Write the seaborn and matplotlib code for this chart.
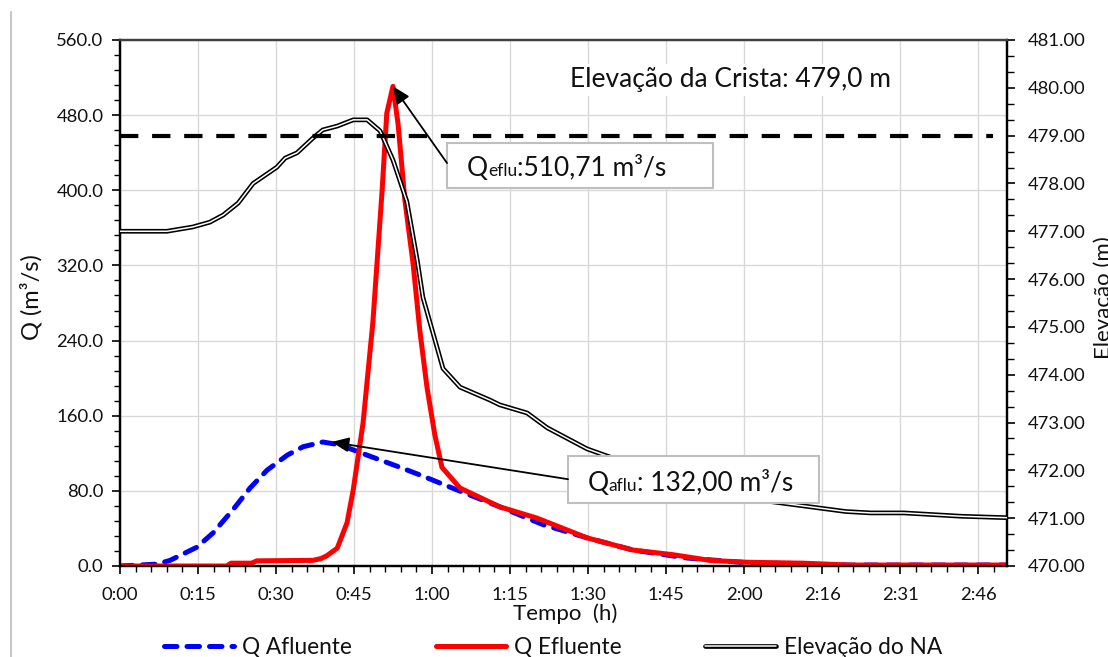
import matplotlib
matplotlib.use("Agg")
import matplotlib.pyplot as plt
import matplotlib.patheffects as pe
from matplotlib.lines import Line2D
from matplotlib.patches import Rectangle
from matplotlib.ticker import AutoMinorLocator, MultipleLocator, FixedLocator
from matplotlib.offsetbox import TextArea, HPacker, AnnotationBbox
import seaborn as sns

# ---------------- data (time in minutes) ----------------
t_afl = [0, 7.2, 9.7, 14.9, 18.0, 21.9, 25.2, 28.5, 32.4, 35.5, 39.3, 42.6, 47.9,
         54.3, 58.1, 65.3, 73.6, 82.0, 90.5, 99.4, 109.9, 120.2, 132.4, 141.5, 171.9]
q_afl = [0, 2, 6, 20, 35, 60, 83, 102, 118, 127, 132, 129, 118,
         105, 97, 81, 63, 44, 30, 17, 8.5, 4, 2, 1, 1]

t_efl = [0, 20.7, 21.5, 25.5, 26.5, 37.4, 39.0, 40.1, 42.1, 44.0, 45.2, 47.1, 49.0,
         50.8, 51.7, 52.9, 53.9, 55.2, 56.8, 58.1, 59.5, 61.0, 62.4, 65.9, 73.6,
         80.8, 90.5, 99.4, 107.2, 114.3, 121.5, 132.4, 141.5, 171.9]
q_efl = [0, 0, 3, 3, 5.5, 6, 8, 11, 19, 46, 81, 152, 259,
         400, 482, 510.71, 470, 390, 322, 251, 190, 140, 105, 83, 63,
         51, 30, 17, 12, 6, 4, 3, 1, 1]

t_elev = [0, 9.1, 14.1, 17.4, 20.0, 22.9, 25.8, 30.4, 32.0, 34.3, 37.4, 39.3, 42.1,
          45.2, 47.9, 50.4, 52.9, 55.6, 57.6, 58.7, 62.6, 65.9, 71.7, 73.6, 78.9,
          82.8, 90.5, 94.4, 100, 110, 120, 125.2, 135.7, 140.6, 145.5, 151.9, 163.1, 171.9]
e_elev = [477.00, 477.00, 477.09, 477.19, 477.34, 477.59, 478.00, 478.34, 478.53, 478.64,
          478.95, 479.12, 479.20, 479.33, 479.33, 479.10, 478.49, 477.62, 476.40, 475.62,
          474.13, 473.74, 473.47, 473.37, 473.20, 472.89, 472.45, 472.30, 472.1, 471.8,
          471.5, 471.36, 471.21, 471.14, 471.11, 471.11, 471.04, 471.01]

crista_t = [0, 169.2]
crista_e = [479.0, 479.0]

x_tick_labels = ["0:00", "0:15", "0:30", "0:45", "1:00", "1:15", "1:30",
                 "1:45", "2:00", "2:16", "2:31", "2:46"]
x_major_step = 15.12
q_ticks = [0, 80, 160, 240, 320, 400, 480, 560]
e_ticks = [470, 471, 472, 473, 474, 475, 476, 477, 478, 479, 480, 481]

peak_efl = (52.9, 510.71)
peak_afl = (41.0, 132.0)

# ---------------- style ----------------
sns.set_theme(style="white")
plt.rcParams["font.family"] = ["Lato", "DejaVu Sans"]
TXT = "#111111"
plt.rcParams["text.color"] = TXT

fig = plt.figure(figsize=(11.08, 6.57), dpi=100)
ax = fig.add_axes([120/1108, 1-566/657, 887/1108, 526/657])
ax2 = ax.twinx()

double_fx = [pe.Stroke(linewidth=3.4, foreground="black"), pe.Normal()]

# primary series
sns.lineplot(x=t_afl, y=q_afl, ax=ax, color="#0000ff", lw=3.6, sort=False,
             linestyle=(0, (2.5, 2.0)), dash_capstyle="round", zorder=3)
sns.lineplot(x=t_efl, y=q_efl, ax=ax, color="#ff0000", lw=3.6, sort=False,
             zorder=4, solid_joinstyle="round")

# secondary series (double line: white core with black outline)
sns.lineplot(x=t_elev, y=e_elev, ax=ax2, color="white", lw=1.1, sort=False, zorder=3,
             path_effects=double_fx)
sns.lineplot(x=crista_t, y=crista_e, ax=ax2, color="black", lw=3.0, sort=False,
             linestyle=(0, (4.4, 3.3)), dash_capstyle="butt", zorder=3.2)

# axes limits / ticks
xmax = 171.9
ax.set_xlim(0, xmax)
ax.set_ylim(0, 560)
ax2.set_ylim(470, 481)
xt = [i * x_major_step for i in range(len(x_tick_labels))]
ax.xaxis.set_major_locator(FixedLocator(xt))
ax.set_xticklabels(x_tick_labels)
ax.xaxis.set_minor_locator(MultipleLocator(x_major_step / 5))
ax.set_yticks(q_ticks)
ax.set_yticklabels([f"{v:.1f}" for v in q_ticks])
ax.yaxis.set_minor_locator(MultipleLocator(16))
ax2.set_yticks(e_ticks)
ax2.set_yticklabels([f"{v:.2f}" for v in e_ticks])
ax2.yaxis.set_minor_locator(AutoMinorLocator(3))

ax.grid(True, which="major", color="#d9d9d9", lw=1.0)
ax.set_axisbelow(True)

for a in (ax, ax2):
    for s in a.spines.values():
        s.set_color("black")
        s.set_linewidth(1.6)
    a.spines["top"].set_color("#404040")

ax.tick_params(axis="both", which="major", direction="out", length=6, width=1.2,
               color="black", labelsize=13.3, pad=6, labelcolor=TXT)
ax.tick_params(axis="both", which="minor", direction="out", length=4, width=1.0, color="black")
ax.tick_params(axis="x", which="both", bottom=True)
ax.tick_params(axis="y", which="both", left=True)
ax.tick_params(axis="x", which="major", pad=9)
ax2.tick_params(axis="y", which="major", direction="out", length=6, width=1.2,
                color="black", labelsize=13.3, pad=9, right=True, labelcolor=TXT)
ax2.tick_params(axis="y", which="minor", direction="out", length=5, width=1.0,
                color="black", right=True)

ax.set_xlabel("")
ax.set_ylabel("")
ax2.set_ylabel("")

# axis titles
fig.text(31/1108, 1-297/657, "Q (m³/s)", rotation=90, ha="center", va="center", fontsize=17)
fig.text(565/1108, 1-614/657, "Tempo  (h)", ha="center", va="center", fontsize=16)
fig.text(1104/1108, 1-298/657, "Elevação (m)", rotation=90, ha="center", va="center", fontsize=16)

# crest label
ax2.text(0.6885, 0.924, "Elevação da Crista: 479,0 m", transform=ax2.transAxes,
         ha="center", va="center", fontsize=19, zorder=2,
         bbox=dict(boxstyle="square,pad=0.15", fc="white", ec="none"))

# annotation boxes
def label_box(x0, y0, w, h, pieces, tx, ty):
    ax2.add_patch(Rectangle((x0, y0), w, h, transform=ax2.transAxes, fc="white",
                            ec="#bfbfbf", lw=1.5, zorder=6))
    children = [TextArea(s, textprops=dict(fontsize=fs, color=TXT,
                                            family=["Lato", "DejaVu Sans"]))
                for s, fs in pieces]
    pack = HPacker(children=children, align="baseline", pad=0, sep=0)
    ab = AnnotationBbox(pack, (tx, ty), xycoords=ax2.transAxes, frameon=False,
                        box_alignment=(0, 0.5), pad=0, zorder=7)
    ax2.add_artist(ab)

label_box(0.3687, 0.7186, 0.2999, 0.0856,
          [("Q", 19), ("eflu", 12.5), (":510,71 m³/s", 19)], 0.391, 0.757)
label_box(0.5051, 0.1198, 0.2830, 0.0894,
          [("Q", 19), ("aflu", 12.5), (": 132,00 m³/s", 19)], 0.527, 0.158)

arrow = dict(arrowstyle="-|>,head_length=0.7,head_width=0.3", color="black",
             lw=1.3, mutation_scale=15, shrinkA=0, shrinkB=0)
ax2.annotate("", xy=peak_efl, xycoords=ax.transData, xytext=(0.3687, 0.766),
             textcoords="axes fraction", arrowprops=arrow, zorder=6)
ax2.annotate("", xy=peak_afl, xycoords=ax.transData, xytext=(0.5051, 0.165),
             textcoords="axes fraction", arrowprops=arrow, zorder=6)

# legend
h_afl = Line2D([], [], color="#0000ff", lw=3.6, linestyle=(0, (2.5, 2.0)),
               dash_capstyle="round")
h_efl = Line2D([], [], color="#ff0000", lw=3.6)
h_el = Line2D([], [], color="white", lw=1.1, path_effects=double_fx)
fig.legend([h_afl, h_efl, h_el], ["Q Afluente", "Q Efluente", "Elevação do NA"],
           loc="center", bbox_to_anchor=(553/1108, 1-647/657), ncol=3, frameon=False,
           fontsize=16.3, handlelength=3.1, handletextpad=0.35, columnspacing=3.7,
           borderaxespad=0, borderpad=0)

# left border line of the original figure frame
fig.add_artist(Line2D([11/1108, 11/1108], [0, 1-12/657], color="#c8c8c8", lw=1.5))

fig.savefig("out.png", dpi=100)
